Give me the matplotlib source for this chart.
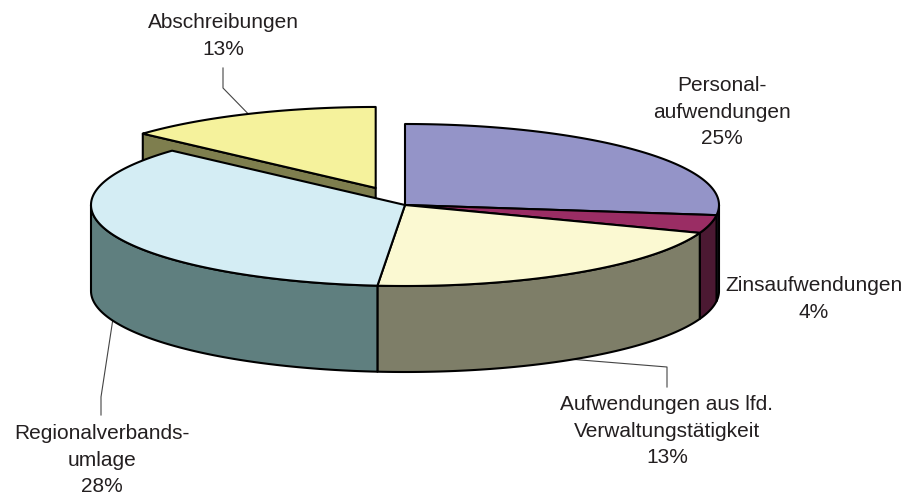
import numpy as np
import matplotlib.pyplot as plt
from matplotlib.patches import Polygon

plt.rcParams["font.family"] = ["Liberation Sans", "DejaVu Sans"]

# slices in drawing order, clockwise from 12 o'clock
labels = ["Personal-\naufwendungen", "Zinsaufwendungen",
          "Aufwendungen aus lfd.\nVerwaltungstätigkeit",
          "Regionalverbands-\numlage", "Abschreibungen"]
pct_labels = [25, 4, 13, 28, 13]
# slice sizes as drawn in the picture (degrees of the pie in percent)
shares = [27.0, 3.6, 20.8, 35.3, 13.3]
explode = [0, 0, 0, 0, 0.23]
top_colors = ["#9494c8", "#9a2d64", "#fbf9d2", "#d4edf4", "#f5f29c"]
side_colors = ["#4a4a64", "#4b1932", "#7e7e68", "#5f7f7f", "#7e7e4e"]

# pie geometry in pixels
CX, CY = 405, 205
RX, RY = 314, 81
DEPTH = 86


def rim(theta, off, drop=0.0):
    t = np.radians(theta)
    return np.column_stack([off[0] + CX + RX * np.cos(t),
                            off[1] + CY - RY * np.sin(t) + drop])


fig = plt.figure(figsize=(9.09, 4.98), dpi=100)
ax = fig.add_axes([0, 0, 1, 1])
ax.set_xlim(0, 909)
ax.set_ylim(498, 0)
ax.axis("off")

total = sum(shares)
angles = []
start = 90.0
for s in shares:
    end = start - 360.0 * s / total
    angles.append((end, start))
    start = end

offsets = []
for (t1, t2), e in zip(angles, explode):
    mid = np.radians((t1 + t2) / 2)
    offsets.append((e * RX * np.cos(mid), -e * RY * np.sin(mid)))

edge = dict(edgecolor="black", linewidth=1.5, joinstyle="round")

# layer 1: cut faces of exploded slices
for (t1, t2), off, e, sc in zip(angles, offsets, explode, side_colors):
    if e == 0:
        continue
    c = np.array([CX + off[0], CY + off[1]])
    for t, nrm in ((t1, t1 - 90), (t2, t2 + 90)):
        if np.sin(np.radians(nrm)) >= -1e-6:
            continue
        p = rim(t, off)[0]
        quad = [c, p, p + [0, DEPTH], c + [0, DEPTH]]
        ax.add_patch(Polygon(quad, closed=True, facecolor=sc, **edge))

# layer 2: outer walls (front half only)
for (t1, t2), off, sc in zip(angles, offsets, side_colors):
    for k in (-1, 0, 1):
        a = max(t1, k * 360 - 180)
        b = min(t2, k * 360)
        if b - a <= 0.2:
            continue
        th = np.linspace(a, b, 80)
        upper = rim(th, off)
        lower = rim(th[::-1], off, DEPTH)
        ax.add_patch(Polygon(np.vstack([upper, lower]), closed=True,
                             facecolor=sc, **edge))

# layer 3: top faces
for (t1, t2), off, tc in zip(angles, offsets, top_colors):
    th = np.linspace(t1, t2, 200)
    pts = np.vstack([[CX + off[0], CY + off[1]], rim(th, off)])
    ax.add_patch(Polygon(pts, closed=True, facecolor=tc, **edge))

# labels
text_pos = [(722, 112), (814, 299), (667, 431), (102, 460), (223, 36)]
# leader lines: bend points from label, ending on the slice at its mid angle
leaders = {2: [(667, 387), (667, 367)],
           3: [(101, 415), (101, 397)],
           4: [(223, 68), (223, 88)]}

for i, (lab, pct) in enumerate(zip(labels, pct_labels)):
    x, y = text_pos[i]
    ax.text(x, y, f"{lab}\n{pct}%", ha="center", va="center",
            multialignment="center", fontsize=15, color="#231f20",
            linespacing=1.5)
    if i in leaders:
        t1, t2 = angles[i]
        mid = (t1 + t2) / 2
        drop = DEPTH if np.sin(np.radians(mid)) < 0 else 0
        end = rim(mid, offsets[i], drop)[0]
        pts = np.array(leaders[i] + [tuple(end)])
        ax.plot(pts[:, 0], pts[:, 1], color="#444444", lw=0.8, zorder=0.5)

fig.savefig("out.png", dpi=100)
